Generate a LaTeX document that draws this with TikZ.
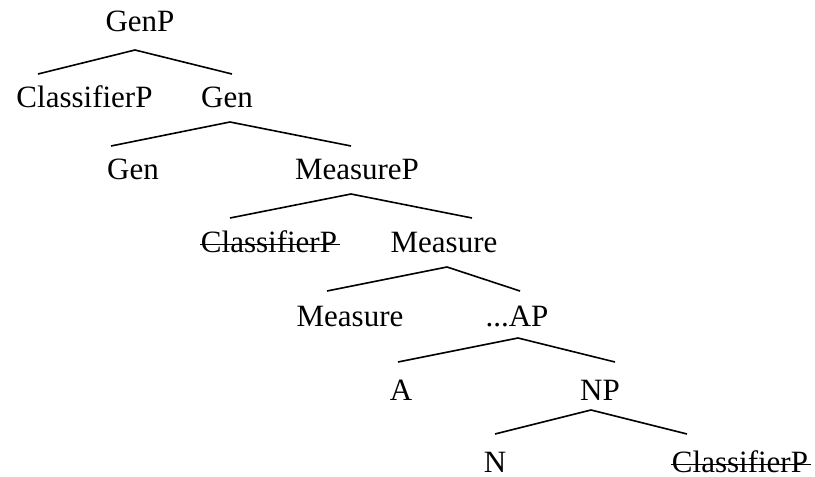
\documentclass[tikz,border=0pt]{standalone}
\usepackage{fontspec}
\setmainfont{Liberation Serif}
\begin{document}
\begin{tikzpicture}[x=1pt,y=-1pt,
  lbl/.style={inner sep=0pt, anchor=base, font=\fontsize{31}{37}\selectfont},
  branch/.style={line width=1.6pt, line join=miter},
  strike/.style={line width=1.4pt}]
\useasboundingbox (0,0) rectangle (815,477);
% labels
\node[lbl] (genp) at (140,31) {GenP};
\node[lbl] (clp1) at (84.5,107) {ClassifierP};
\node[lbl] (gen1) at (227,107) {Gen};
\node[lbl] (gen2) at (133,179) {Gen};
\node[lbl] (measp) at (357,179) {MeasureP};
\node[lbl] (clp2) at (269,252) {ClassifierP};
\node[lbl] (meas1) at (444,252) {Measure};
\node[lbl] (meas2) at (350,326) {Measure};
\node[lbl] (ap) at (517,326) {...AP};
\node[lbl] (a) at (401,400) {A};
\node[lbl] (np) at (600,400) {NP};
\node[lbl] (n) at (495,472) {N};
\node[lbl] (clp3) at (740,472) {ClassifierP};
% strike-outs
\draw[strike] ([yshift=7.5pt,xshift=-1pt]clp2.base west) -- ([yshift=7.5pt,xshift=3pt]clp2.base east);
\draw[strike] ([yshift=7.5pt,xshift=-1pt]clp3.base west) -- ([yshift=7.5pt,xshift=3pt]clp3.base east);
% branch points
\coordinate (a0) at (135,50);  \coordinate (l0) at (38,74);   \coordinate (r0) at (232,74);
\coordinate (a1) at (230,122); \coordinate (l1) at (111,146);  \coordinate (r1) at (351,146);
\coordinate (a2) at (351,194); \coordinate (l2) at (230,218);  \coordinate (r2) at (472,218);
\coordinate (a3) at (447,267); \coordinate (l3) at (327,291);  \coordinate (r3) at (520,291);
\coordinate (a4) at (518,338); \coordinate (l4) at (398,362);  \coordinate (r4) at (615,362);
\coordinate (a5) at (591,410); \coordinate (l5) at (495,434);  \coordinate (r5) at (687,434);
\foreach \i in {0,...,5}{
  \draw[branch] (l\i) -- (a\i) -- (r\i);
}
\end{tikzpicture}
\end{document}
